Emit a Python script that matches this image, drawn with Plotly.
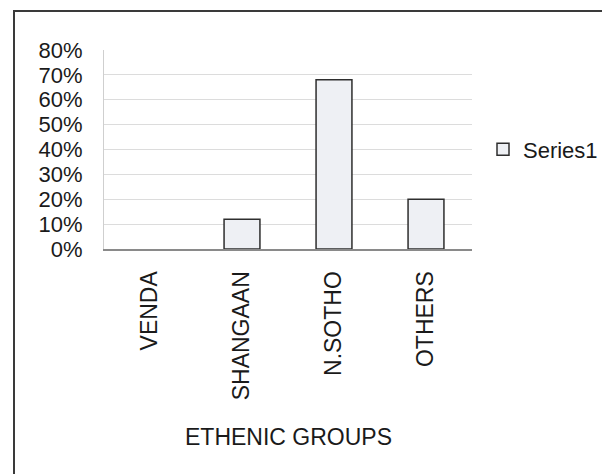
import plotly.graph_objects as go

# Share of respondents by ethnic group
categories = ["VENDA", "SHANGAAN", "N.SOTHO", "OTHERS"]
shares = [0.0, 0.12, 0.68, 0.20]
series_name = "Series1"
y_ticks = [0.0, 0.1, 0.2, 0.3, 0.4, 0.5, 0.6, 0.7, 0.8]
y_tick_labels = ["0%", "10%", "20%", "30%", "40%", "50%", "60%", "70%", "80%"]
x_title = "ETHENIC GROUPS"

W, H = 602, 474
L, R, T, B = 104, 130, 50, 225  # plot area: x 104..472, y 50..249
pw, ph = W - L - R, H - T - B

def px_to_paper_x(px):
    return (px - L) / pw

def px_to_paper_y(py):
    return (H - B - py) / ph

font = "Liberation Sans, Arial, sans-serif"

# Points are fed largest first so the legend swatch takes a drawn bar's outline;
# the axis keeps the original category order via categoryarray.
order = sorted(range(len(categories)), key=lambda i: -shares[i])
trace_x = [categories[i] for i in order]
trace_y = [shares[i] for i in order]
# empty bars get no outline, so nothing extra sits on the baseline
outline_widths = [1.5 if v > 0 else 0 for v in trace_y]

fig = go.Figure(
    go.Bar(
        x=trace_x,
        y=trace_y,
        name=series_name,
        width=0.39,
        marker=dict(color="#eef0f4", line=dict(color="#2e2e2e", width=outline_widths)),
        showlegend=True,
    )
)

fig.update_layout(
    width=W,
    height=H,
    margin=dict(l=L, r=R, t=T, b=B, pad=0, autoexpand=False),
    paper_bgcolor="white",
    plot_bgcolor="white",
    font=dict(family=font, color="#1a1a1a"),
    showlegend=True,
    legend=dict(
        x=px_to_paper_x(483),
        y=0.5,
        xanchor="left",
        yanchor="middle",
        font=dict(size=22, family=font, color="#1a1a1a"),
        bgcolor="rgba(0,0,0,0)",
        itemwidth=30,
    ),
    xaxis=dict(
        type="category",
        categoryorder="array",
        categoryarray=categories,
        tickangle=-90,
        tickfont=dict(size=23, family=font, color="#1a1a1a"),
        showgrid=False,
        showline=True,
        linecolor="#8a8a8a",
        linewidth=2,
        ticks="",
        ticklabelstandoff=11,
        layer="above traces",
    ),
    yaxis=dict(
        range=[0, 0.8],
        tickvals=y_ticks,
        ticktext=y_tick_labels,
        tickfont=dict(size=22, family=font, color="#1a1a1a"),
        showgrid=True,
        gridcolor="#dcdcdc",
        gridwidth=1,
        showline=True,
        linecolor="#cfcfcf",
        linewidth=1,
        zeroline=False,
        ticks="",
        ticklabelstandoff=16,
    ),
    annotations=[
        dict(
            text=x_title,
            xref="paper",
            yref="paper",
            x=0.5,
            y=px_to_paper_y(437),
            xanchor="center",
            yanchor="middle",
            showarrow=False,
            font=dict(size=23, family=font, color="#1a1a1a"),
        )
    ],
    shapes=[
        dict(
            type="rect",
            xref="paper",
            yref="paper",
            x0=px_to_paper_x(14),
            x1=px_to_paper_x(W + 10),
            y0=px_to_paper_y(H + 10),
            y1=px_to_paper_y(11),
            line=dict(color="#3a3a3a", width=2),
            fillcolor="rgba(0,0,0,0)",
            layer="below",
        )
    ],
)

fig.write_html("out.html")
